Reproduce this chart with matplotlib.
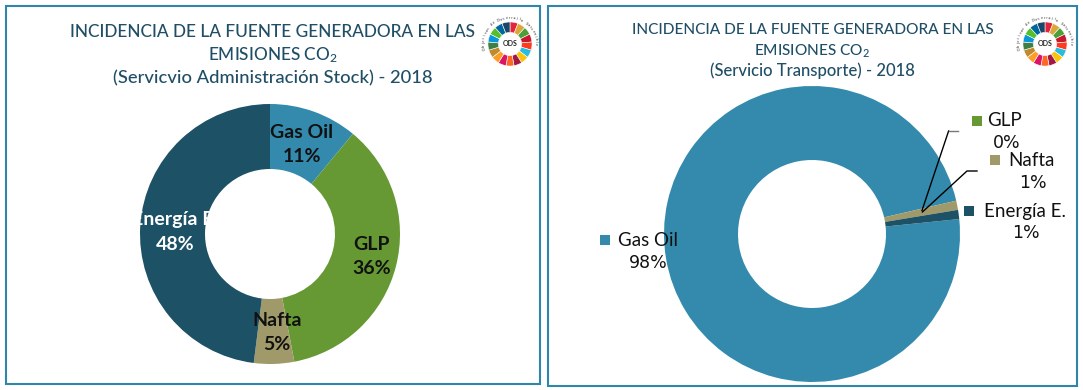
import numpy as np
import matplotlib
matplotlib.use("Agg")
import matplotlib.pyplot as plt
from matplotlib.patches import Rectangle

W, H = 1083, 390

categories = ["Gas Oil", "GLP", "Nafta", "Energía E."]
stock_values = [11, 36, 5, 48]
transporte_values = [98, 0, 1, 1]
colors = ["#338AAD", "#669933", "#A09A6A", "#1D5166"]
ods_colors = ["#E5243B", "#DDA63A", "#4C9F38", "#C5192D", "#FF3A21", "#26BDE2", "#FCC30B",
              "#A21942", "#FD6925", "#DD1367", "#FD9D24", "#BF8B2E", "#3F7E44", "#0A97D9",
              "#56C02B", "#00689D", "#19486A"]

TITLE = "#1F4E66"
FRAME = "#2F86A8"

plt.rcParams["font.family"] = ["Lato", "DejaVu Sans"]
plt.rcParams["mathtext.default"] = "regular"

fig = plt.figure(figsize=(W / 100, H / 100), dpi=100, facecolor="white")


def fx(x):
    return x / W


def fy(y):
    return 1 - y / H


def put(x, y, s, size, color="#111111", **kw):
    fig.text(fx(x), fy(y), s, fontsize=size, color=color, ha="center", va="center", **kw)


def donut(cx, cy, r, values, start):
    ax = fig.add_axes([fx(cx - r), fy(cy + r), 2 * r / W, 2 * r / H])
    ax.pie(values, colors=colors, startangle=start, counterclock=False, radius=1,
           wedgeprops=dict(width=0.5, linewidth=0))
    ax.set_xlim(-1, 1)
    ax.set_ylim(-1, 1)
    ax.set_aspect("auto")
    ax.axis("off")


def logo(cx, cy, r):
    ax = fig.add_axes([fx(cx - r), fy(cy + r), 2 * r / W, 2 * r / H])
    ax.pie([1] * 17, colors=ods_colors, startangle=90, counterclock=False, radius=0.76,
           wedgeprops=dict(width=0.36, linewidth=0.4, edgecolor="white"))
    ax.set_xlim(-1, 1)
    ax.set_ylim(-1, 1)
    ax.set_aspect("auto")
    ax.axis("off")
    ax.text(0, 0, "ODS", ha="center", va="center", fontsize=5, fontweight="bold", color="#222222")
    # arc of tiny text round the top of the ring
    s = "Objetivos de Desarrollo Sostenible"
    for i, ch in enumerate(s):
        a = np.deg2rad(190 - i * 190 / (len(s) - 1))
        ax.text(0.9 * np.cos(a), 0.9 * np.sin(a), ch, fontsize=2.8, color="#333333",
                rotation=np.rad2deg(a) - 90, ha="center", va="center", rotation_mode="anchor")


fig.add_artist(Rectangle((fx(6), fy(384)), 534 / W, 378 / H, transform=fig.transFigure,
                         fill=False, edgecolor=FRAME, linewidth=1.5))
fig.add_artist(Rectangle((fx(548), fy(386)), 529 / W, 380 / H, transform=fig.transFigure,
                         fill=False, edgecolor=FRAME, linewidth=1.5))

donut(270, 234, 130, stock_values, 90)
donut(812, 234, 148, transporte_values, 5.8)

# left titles
put(272, 32, "INCIDENCIA DE LA FUENTE GENERADORA EN LAS", 12.4, TITLE, fontweight="medium")
put(273, 55, "EMISIONES CO$_{2}$", 12.4, TITLE, fontweight="medium")
put(273, 78, "(Servicvio Administración Stock) - 2018", 13.2, TITLE, fontweight="medium")

# right titles
put(813, 30, "INCIDENCIA DE LA FUENTE GENERADORA EN LAS", 11.1, TITLE, fontweight="medium")
put(812, 51, "EMISIONES CO$_{2}$", 11.1, TITLE, fontweight="medium")
put(812, 71, "(Servicio Transporte) - 2018", 12, TITLE, fontweight="medium")

logo(510, 44, 29)
logo(1045, 44, 29)

# left slice labels
for (x, y1, y2), name, v, col in zip([(302, 133, 157), (372, 244, 269), (277, 320, 345), (175, 219, 244)],
                                     categories, stock_values, ["#111111", "#111111", "#111111", "white"]):
    put(x, y1, name, 14, col, fontweight="bold")
    put(x, y2, f"{v}%", 14, col, fontweight="bold")

# right labels and leader lines
fig.add_artist(plt.Line2D([fx(922), fx(948.6)], [fy(210.5), fy(131)], color="black", lw=1))
fig.add_artist(plt.Line2D([fx(948.6), fx(958)], [fy(131), fy(131)], color="#777777", lw=1))
fig.add_artist(plt.Line2D([fx(922.4), fx(967), fx(977)], [fy(212), fy(171), fy(171)], color="black", lw=1))

for (sx, sy), (x1, y1), (x2, y2), name, v, col in zip(
        [(605, 240), (977, 121), (995, 159.5), (968.5, 211)],
        [(648, 241), (1005, 121), (1031, 160), (1025, 211)],
        [(648, 263), (1007, 143), (1033, 183), (1026, 233)],
        categories, transporte_values, colors):
    fig.add_artist(Rectangle((fx(sx - 5), fy(sy + 5)), 10 / W, 10 / H, transform=fig.transFigure,
                             facecolor=col, edgecolor="none"))
    put(x1, y1, name, 13.5)
    put(x2, y2, f"{v}%", 12.5, family="DejaVu Sans")

fig.savefig("out.png", dpi=100, facecolor="white")
